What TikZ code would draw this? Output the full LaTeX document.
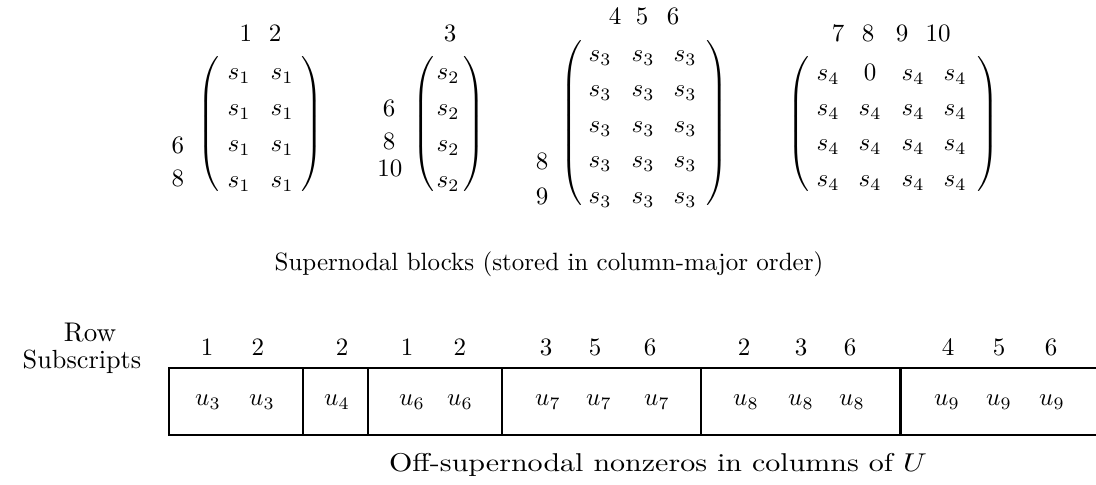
\documentclass[tikz,border=0pt]{standalone}
\usepackage{amsmath}
\usepackage{graphicx}
\newcommand{\myParen}[1]{\resizebox*{!}{#1}{$\left(\vcenter{\hbox{\rule{0pt}{#1}}}\right.$}}
\newcommand{\myRParen}[1]{\resizebox*{!}{#1}{$\left.\vcenter{\hbox{\rule{0pt}{#1}}}\right)$}}
\begin{document}
\begin{tikzpicture}[x=0.4pt,y=-0.4pt,
  every node/.style={inner sep=0pt,outer sep=0pt},
  ent/.style={anchor=base},
  grp/.style={draw,line width=0.85pt,minimum height=26.8pt}]
\useasboundingbox (0,0) rectangle (1096,485);
\clip (0,0) rectangle (1096,485);
% ---------- matrix 1 ----------
\node[ent] (h11) at (246,42) {1};
\node[ent] (h12) at (275,42) {2};
\node (l1a) at (210,124) {\myParen{56.8pt}};
\node (r1a) at (311,124) {\myRParen{56.8pt}};
\foreach \y [count=\r] in {80,116,152,188}{
  \node[ent] (a\r1) at (239,\y) {$s_1$};
  \node[ent] (a\r2) at (282,\y) {$s_1$};
}
\node[ent] (ra6) at (178,154) {6};
\node[ent] (ra8) at (178,187) {8};
% ---------- matrix 2 ----------
\node[ent] (h23) at (450,42) {3};
\node (l2a) at (425,124.5) {\myParen{58pt}};
\node (r2a) at (473,124.5) {\myRParen{58pt}};
\foreach \y [count=\r] in {80,116,152,188}{
  \node[ent] (b\r1) at (448,\y) {$s_2$};
}
\node[ent] (rb6) at (389,117) {6};
\node[ent] (rb8) at (389,150) {8};
\node[ent] (rb10) at (390,177) {10};
% ---------- matrix 3 ----------
\node[ent] (h34) at (615,25) {4};
\node[ent] (h35) at (642,25) {5};
\node[ent] (h36) at (673,25) {6};
\node (l3a) at (573,123.5) {\myParen{69.2pt}};
\node (r3a) at (716,123.5) {\myRParen{69.2pt}};
\foreach \y [count=\r] in {62,97,133,168,204}{
  \node[ent] (c\r1) at (600,\y) {$s_3$};
  \node[ent] (c\r2) at (643,\y) {$s_3$};
  \node[ent] (c\r3) at (685,\y) {$s_3$};
}
\node[ent] (rc8) at (542,170) {8};
\node[ent] (rc9) at (542,205) {9};
% ---------- matrix 4 ----------
\node[ent] (h47) at (838,42) {7};
\node[ent] (h48) at (868,42) {8};
\node[ent] (h49) at (902,42) {9};
\node[ent] (h410) at (938,42) {10};
\node (l4a) at (800,124) {\myParen{56.8pt}};
\node (r4a) at (987,124) {\myRParen{56.8pt}};
\node[ent] (d11) at (828,81) {$s_4$};
\node[ent] (d12) at (870,81) {$0$};
\node[ent] (d13) at (913,81) {$s_4$};
\node[ent] (d14) at (955,81) {$s_4$};
\foreach \y [count=\r from 2] in {116,151,187}{
  \node[ent] (d\r1) at (828,\y) {$s_4$};
  \node[ent] (d\r2) at (870,\y) {$s_4$};
  \node[ent] (d\r3) at (913,\y) {$s_4$};
  \node[ent] (d\r4) at (955,\y) {$s_4$};
}
\node[ent] (cap1) at (549,271) {Supernodal blocks (stored in column-major order)};
% ---------- row subscripts ----------
\node[ent] (row) at (90,342) {\scalebox{1.08}{Row}};
\node[ent] (subs) at (82,369) {\scalebox{1.05}{Subscripts}};
\node[grp,minimum width=53.6pt] (g1) at (236,401.5) {};
\node[grp,minimum width=26pt] (g2) at (335.5,401.5) {};
\node[grp,minimum width=53.6pt] (g3) at (435,401.5) {};
\node[grp,minimum width=79.6pt] (g4) at (601.5,401.5) {};
\node[grp,minimum width=79.6pt] (g5) at (800.5,401.5) {};
\node[grp,minimum width=80pt] (g6) at (1000.5,401.5) {};
\foreach \x/\t [count=\i] in {207/1,258/2,342/2,407/1,460/2,546/3,595/5,650/6,744/2,801/3,850/6,948/4,999/5,1051/6}{
  \node[ent] (n\i) at (\x,356) {\t};
}
\foreach \x/\t [count=\i] in {208/3,262/3,337/4,412/6,460/6,548/7,599/7,657/7,746/8,801/8,852/8,947/9,999/9,1052/9}{
  \node[ent] (u\i) at (\x,406) {$u_{\t}$};
}
\node[ent] (cap2) at (658,472) {\scalebox{1.2}[1.03]{Off-supernodal nonzeros in columns of $U$}};
\end{tikzpicture}
\end{document}
